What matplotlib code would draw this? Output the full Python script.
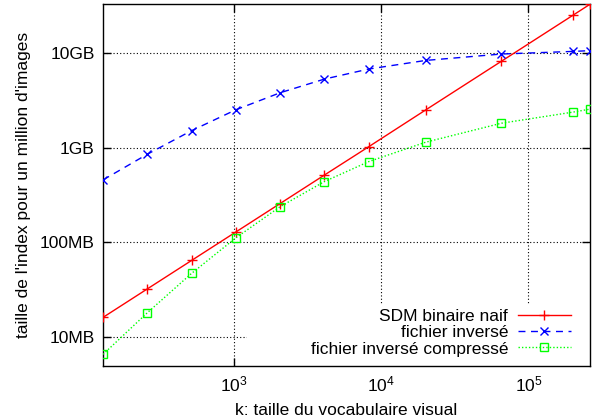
import numpy as np
import matplotlib
matplotlib.use('Agg')
import matplotlib.pyplot as plt
from matplotlib.patches import Rectangle
from matplotlib.ticker import FixedLocator, FixedFormatter, NullLocator

plt.rcParams['font.family'] = ['Liberation Sans', 'DejaVu Sans']
plt.rcParams['mathtext.fontset'] = 'custom'
plt.rcParams['mathtext.rm'] = 'Liberation Sans'
plt.rcParams['font.size'] = 12.5

# vocabulary size k
k = [128, 256, 512, 1024, 2048, 4096, 8192, 20000, 65536, 200000, 262144]

# index size in bytes for one million images
sdm_naif = [1.6e7, 3.2e7, 6.4e7, 1.28e8, 2.56e8, 5.12e8, 1.02e9, 2.5e9, 8.19e9, 2.5e10, 3.28e10]
inverse = [4.55e8, 8.5e8, 1.51e9, 2.51e9, 3.8e9, 5.3e9, 6.77e9, 8.35e9, 9.76e9, 1.04e10, 1.06e10]
inverse_comp = [6.5e6, 1.79e7, 4.67e7, 1.11e8, 2.37e8, 4.37e8, 7.1e8, 1.14e9, 1.81e9, 2.37e9, 2.55e9]

labels = ['SDM binaire naif', 'fichier inversé', 'fichier inversé compressé']
ytick_vals = [1e7, 1e8, 1e9, 1e10]
ytick_labels = ['10MB', '100MB', '1GB', '10GB']
xtick_vals = [1e3, 1e4, 1e5]

fig = plt.figure(figsize=(5.97, 4.2), dpi=100)
ax = fig.add_axes([103/597, 1-366/420, (590-103)/597, (366-4)/420])

ax.plot(k, sdm_naif, color='#ff0000', lw=1, ls='-', marker='+', ms=7, mew=1, label=labels[0], zorder=3)
ax.plot(k, inverse, color='#0000ff', lw=1, ls=(0, (5, 4)), marker='x', ms=5.5, mew=1, label=labels[1], zorder=3)
ax.plot(k, inverse_comp, color='#00ff00', lw=1, ls=(0, (1, 1.5)), marker='s', ms=5.5, mew=1,
        mfc='none', label=labels[2], zorder=3)

ax.set_xscale('log')
ax.set_yscale('log')
ax.set_xlim(128, 262144)
ax.set_ylim(4.9e6, 3.3e10)

ax.xaxis.set_major_locator(FixedLocator(xtick_vals))
ax.xaxis.set_minor_locator(NullLocator())
ax.yaxis.set_major_locator(FixedLocator(ytick_vals))
ax.yaxis.set_major_formatter(FixedFormatter(ytick_labels))
ax.yaxis.set_minor_locator(NullLocator())
ax.tick_params(which='major', direction='in', length=6, width=1, top=True, right=True, pad=6)

ax.grid(True, color='black', ls=(0, (1, 2)), lw=0.8)
ax.set_axisbelow(True)
for s in ax.spines.values():
    s.set_linewidth(1)

# opaque key box (hides the grid under the legend, like gnuplot)
ax.add_patch(Rectangle((0.296, 0.0), 0.704, 0.168, transform=ax.transAxes,
                       facecolor='white', edgecolor='none', zorder=1))

ax.set_xlabel('k: taille du vocabulaire visual', labelpad=6)
ax.set_ylabel("taille de l'index pour un million d'images", labelpad=6)

leg = ax.legend(loc='lower right', bbox_to_anchor=(574/597, 1-360/420), bbox_transform=fig.transFigure,
                markerfirst=False, frameon=False, handlelength=3, handletextpad=0.6,
                labelspacing=0.07, borderpad=0.2, borderaxespad=0)

fig.savefig('out.png', dpi=100)
